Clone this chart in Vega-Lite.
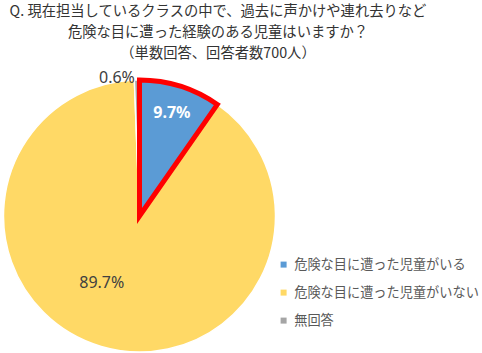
{
  "$schema": "https://vega.github.io/schema/vega-lite/v6.json",
  "width": 279,
  "height": 272,
  "autosize": {"type": "none"},
  "padding": {"left": 0, "top": 80, "right": 203, "bottom": 1},
  "background": "white",
  "config": {"view": {"stroke": null}},
  "title": {
    "text": ["Q. 現在担当しているクラスの中で、過去に声かけや連れ去りなど", "危険な目に遭った経験のある児童はいますか？", "（単数回答、回答者数700人）"],
    "font": "Noto Sans CJK JP",
    "fontSize": 14.3,
    "fontWeight": "normal",
    "color": "#333333",
    "lineHeight": 21,
    "anchor": "middle",
    "dx": 78.5,
    "offset": 9
  },
  "data": {
    "values": [
      {"cat": "危険な目に遭った児童がいる", "value": 9.7, "idx": 1, "label": "9.7%"},
      {"cat": "危険な目に遭った児童がいない", "value": 89.7, "idx": 2, "label": "89.7%"},
      {"cat": "無回答", "value": 0.6, "idx": 3, "label": "0.6%"}
    ]
  },
  "encoding": {
    "theta": {"field": "value", "type": "quantitative", "stack": true},
    "order": {"field": "idx", "type": "quantitative"}
  },
  "layer": [
    {
      "mark": {"type": "arc", "outerRadius": 136, "stroke": "white", "strokeWidth": 1.5},
      "encoding": {
        "color": {
          "field": "cat",
          "type": "nominal",
          "scale": {
            "domain": ["危険な目に遭った児童がいる", "危険な目に遭った児童がいない", "無回答"],
            "range": ["#5B9BD5", "#FFD966", "#A5A5A5"]
          },
          "legend": {
            "title": null,
            "orient": "none",
            "legendX": 277,
            "legendY": 178,
            "symbolType": "square",
            "symbolSize": 36,
            "symbolStrokeWidth": 0,
            "labelFontSize": 13.2,
            "labelFont": "Noto Sans CJK JP",
            "labelColor": "#595959",
            "labelLimit": 300,
            "labelOffset": 4,
            "rowPadding": 14,
            "padding": 0
          }
        }
      }
    },
    {
      "mark": {"type": "arc", "outerRadius": 136, "fillOpacity": 0, "strokeWidth": 5, "strokeJoin": "miter"},
      "encoding": {
        "stroke": {"condition": {"test": "datum.idx === 1", "value": "#FF0000"}, "value": null}
      }
    },
    {
      "mark": {"type": "text", "radius": 108, "font": "Noto Sans", "fontSize": 16, "fontWeight": "bold", "color": "white"},
      "encoding": {
        "text": {"condition": {"test": "datum.idx === 1", "field": "label", "type": "nominal"}, "value": ""}
      }
    },
    {
      "mark": {"type": "text", "radius": 77, "dx": -16, "dy": -7, "font": "Noto Sans", "fontSize": 16, "color": "#404040"},
      "encoding": {
        "text": {"condition": {"test": "datum.idx === 2", "field": "label", "type": "nominal"}, "value": ""}
      }
    },
    {
      "mark": {"type": "text", "radius": 138, "dx": -2, "align": "right", "font": "Noto Sans", "fontSize": 16, "color": "#404040"},
      "encoding": {
        "text": {"condition": {"test": "datum.idx === 3", "field": "label", "type": "nominal"}, "value": ""}
      }
    }
  ]
}
